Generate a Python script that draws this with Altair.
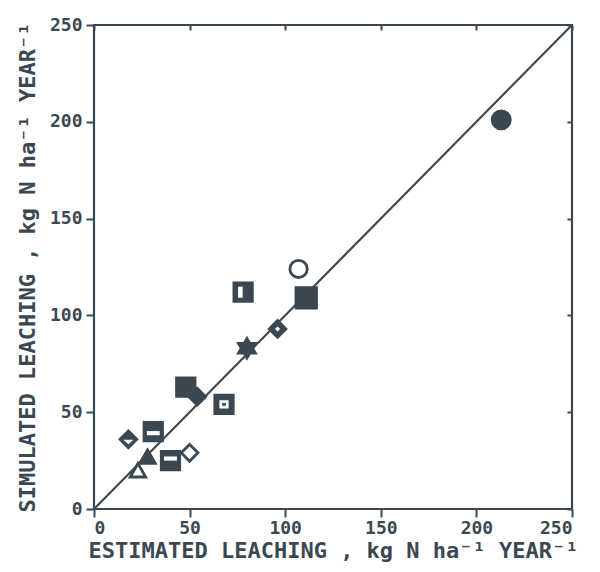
import altair as alt
import pandas as pd

INK = "#3b4852"

# Data (kg N / ha / year)
est = [213, 107, 111, 78, 96, 80, 48, 54, 68, 18, 31, 28, 23, 40, 50]
sim = [201, 124, 109, 112, 93, 83, 63, 58, 54, 36, 40, 27, 20, 25, 29]
symbol = ["circle", "circle", "square", "square", "diamond", "star", "square",
          "diamond", "square", "diamond", "square", "triangle-up", "triangle-up",
          "square", "diamond"]
filled = [True, False, True, True, True, True, True,
          True, True, True, True, True, False, True, False]

# white inner details of the patterned symbols (index into the lists above)
detail_idx = [3, 4, 8, 9, 10, 13]
detail_kind = ["vbar", "diamond_in", "box_in", "diamond_low", "hbar_low", "hbar_high"]

diag = [0, 250]
ticks = [0, 50, 100, 150, 200, 250]

STAR = "M0,-1L0.866,0.5L-0.866,0.5Z M0,1L-0.866,-0.5L0.866,-0.5Z"
shape_path = {
    "circle": "circle", "square": "square", "diamond": "diamond",
    "triangle-up": "triangle-up", "star": STAR,
}
size_of = {"circle": 330, "square": 340, "diamond": 280, "triangle-up": 240, "star": 380}
detail_path = {
    "vbar": "M-0.55,-0.6H-0.05V0.6H-0.55Z",
    "diamond_in": "M-0.3,0L0,-0.3L0.3,0L0,0.3Z",
    "box_in": "M-0.5,-0.45H0.5V0.45H-0.5Z M-0.2,-0.15H-0.2V0.15H0.2V-0.15Z",
    "diamond_low": "M-0.6,0.05H0.6L0,0.6Z",
    "hbar_low": "M-0.7,-0.05H0.7V0.4H-0.7Z",
    "hbar_high": "M-0.7,-0.45H0.7V0.0H-0.7Z",
}

df = pd.DataFrame({
    "est": est,
    "sim": sim,
    "shape": [shape_path[s] for s in symbol],
    "fill": [INK if f else "white" for f in filled],
    "size": [size_of[s] for s in symbol],
})
df.loc[0, "size"] = 330
df.loc[1, "size"] = 300
df.loc[2, "size"] = 420

ddf = pd.DataFrame({
    "est": [est[i] for i in detail_idx],
    "sim": [sim[i] for i in detail_idx],
    "shape": [detail_path[k] for k in detail_kind],
    "size": [df.loc[i, "size"] for i in detail_idx],
})

line_df = pd.DataFrame({"x": diag, "y": diag})

FONT = "DejaVu Sans Mono"
dom = [0, 250]

xs = alt.Scale(domain=dom, nice=False, zero=False)
ys = alt.Scale(domain=dom, nice=False, zero=False)

x_axis = alt.Axis(values=ticks, title="ESTIMATED LEACHING , kg N ha\u207b\u00b9 YEAR\u207b\u00b9",
                  grid=False, domain=False, tickSize=8, tickWidth=2, tickColor=INK,
                  labelFont=FONT, labelFontSize=18, labelFontWeight="bold", labelColor=INK,
                  labelPadding=2, titleFont=FONT, titleFontSize=22, titleFontWeight="bold",
                  titleColor=INK, titlePadding=3)
y_axis = alt.Axis(values=ticks, title="SIMULATED LEACHING , kg N ha\u207b\u00b9 YEAR\u207b\u00b9",
                  grid=False, domain=False, tickSize=8, tickWidth=2, tickColor=INK,
                  labelFont=FONT, labelFontSize=18, labelFontWeight="bold", labelColor=INK,
                  labelPadding=4, titleFont=FONT, titleFontSize=22, titleFontWeight="bold",
                  titleColor=INK, titlePadding=10)

top_axis = alt.Axis(orient="top", values=ticks, title=None, labels=False, grid=False,
                    domain=False, tickSize=5, tickWidth=2, tickColor=INK, offset=-5)
right_axis = alt.Axis(orient="right", values=ticks, title=None, labels=False, grid=False,
                      domain=False, tickSize=5, tickWidth=2, tickColor=INK, offset=-5)

line = alt.Chart(line_df).mark_line(color=INK, strokeWidth=2.2, clip=True).encode(
    x=alt.X("x:Q", scale=xs, axis=top_axis),
    y=alt.Y("y:Q", scale=ys, axis=right_axis),
)

points = alt.Chart(df).mark_point(filled=False, stroke=INK, strokeWidth=2.8, opacity=1).encode(
    x=alt.X("est:Q", scale=xs, axis=x_axis),
    y=alt.Y("sim:Q", scale=ys, axis=y_axis),
    shape=alt.Shape("shape:N", scale=None),
    fill=alt.Fill("fill:N", scale=None),
    size=alt.Size("size:Q", scale=None),
)

details = alt.Chart(ddf).mark_point(filled=True, color="white", opacity=1, strokeWidth=0).encode(
    x=alt.X("est:Q", scale=xs, axis=None),
    y=alt.Y("sim:Q", scale=ys, axis=None),
    shape=alt.Shape("shape:N", scale=None),
    size=alt.Size("size:Q", scale=None),
)

chart = alt.layer(line, points, details).resolve_axis(
    x="independent", y="independent"
).properties(
    width=478, height=484,
    autosize=alt.AutoSizeParams(type="none"),
    padding={"left": 94, "top": 25, "right": 28, "bottom": 63},
    background="white",
).configure_view(stroke=INK, strokeWidth=2.2)

chart.save("out.html", embed_options={"renderer": "svg", "actions": False})
